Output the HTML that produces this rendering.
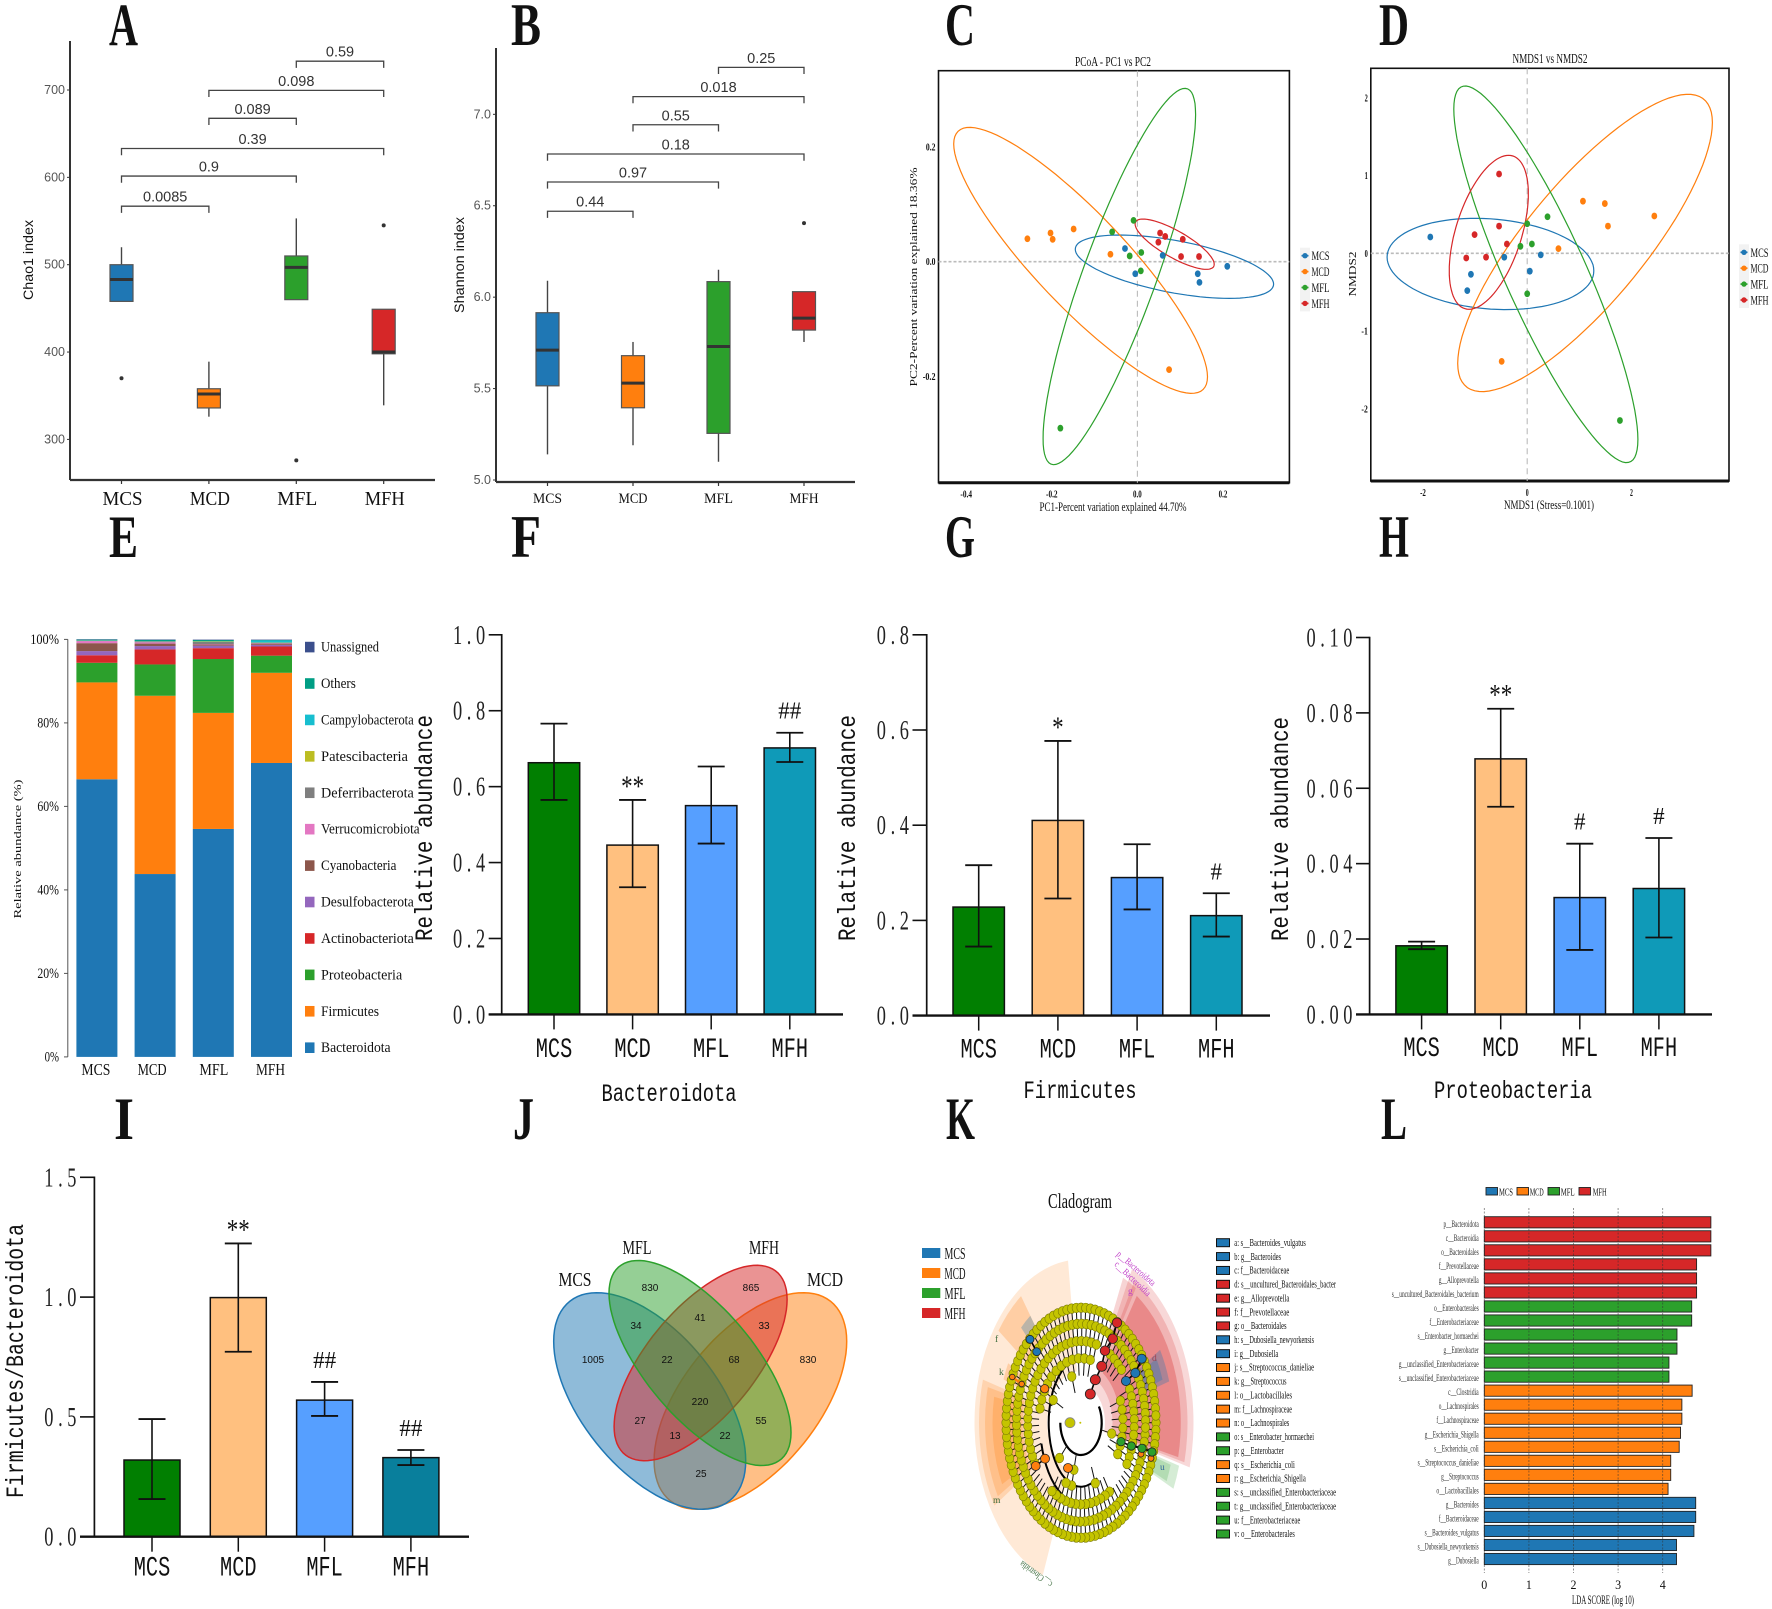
<!DOCTYPE html>
<html lang="en">
<head>
<meta charset="utf-8">
<title>Gut microbiota multi-panel figure</title>
<style>
html,body{margin:0;padding:0;background:#fff}
svg{display:block;filter:blur(0.35px)}
text{font-family:"Liberation Serif",serif;fill:#111}
.sans{font-family:"Liberation Sans",sans-serif}
.mono{font-family:"Liberation Mono",monospace}
.gray{fill:#555}
</style>
</head>
<body>
<svg id="figure" xmlns="http://www.w3.org/2000/svg" width="1772" height="1609" viewBox="0 0 1772 1609">
<rect x="0" y="0" width="1772" height="1609" fill="#fff"/>

<g font-size="60" font-weight="bold">
<text x="109" y="45" textLength="29" lengthAdjust="spacingAndGlyphs">A</text>
<text x="511" y="45" textLength="30" lengthAdjust="spacingAndGlyphs">B</text>
<text x="945" y="45" textLength="30" lengthAdjust="spacingAndGlyphs">C</text>
<text x="1379" y="45" textLength="30" lengthAdjust="spacingAndGlyphs">D</text>
<text x="109" y="557" textLength="29" lengthAdjust="spacingAndGlyphs">E</text>
<text x="511" y="557" textLength="30" lengthAdjust="spacingAndGlyphs">F</text>
<text x="945" y="557" textLength="30" lengthAdjust="spacingAndGlyphs">G</text>
<text x="1379" y="557" textLength="30" lengthAdjust="spacingAndGlyphs">H</text>
<text x="114" y="1139" textLength="20" lengthAdjust="spacingAndGlyphs">I</text>
<text x="513" y="1139" textLength="21" lengthAdjust="spacingAndGlyphs">J</text>
<text x="946" y="1139" textLength="29" lengthAdjust="spacingAndGlyphs">K</text>
<text x="1381" y="1139" textLength="26" lengthAdjust="spacingAndGlyphs">L</text>
</g>

<g id="panel-a">
<text class="sans" font-size="14" fill="#333" text-anchor="middle" transform="translate(33 260) rotate(-90)" textLength="80" lengthAdjust="spacingAndGlyphs">Chao1 index</text>
</g>
<g id="panel-b">
<text class="sans" font-size="14" fill="#333" text-anchor="middle" transform="translate(464 265) rotate(-90)" textLength="96" lengthAdjust="spacingAndGlyphs">Shannon index</text>
</g>

<g id="panel-c">
<text x="1113" y="66" font-size="14" text-anchor="middle" textLength="76" lengthAdjust="spacingAndGlyphs">PCoA - PC1 vs PC2</text>
<text x="1113" y="511" font-size="13" text-anchor="middle" textLength="147" lengthAdjust="spacingAndGlyphs">PC1-Percent variation explained 44.70%</text>
<text font-size="11" text-anchor="middle" transform="translate(917 277) rotate(-90)" textLength="219" lengthAdjust="spacingAndGlyphs">PC2-Percent variation explained 18.36%</text>
</g>
<g id="panel-d">
<text x="1550" y="63" font-size="14" text-anchor="middle" textLength="75" lengthAdjust="spacingAndGlyphs">NMDS1 vs NMDS2</text>
<text x="1549" y="509" font-size="13" text-anchor="middle" textLength="90" lengthAdjust="spacingAndGlyphs">NMDS1 (Stress=0.1001)</text>
<text font-size="11" text-anchor="middle" transform="translate(1356 274) rotate(-90)" textLength="45" lengthAdjust="spacingAndGlyphs">NMDS2</text>
</g>

<g id="panel-e">
<text font-size="11" text-anchor="middle" transform="translate(21 849) rotate(-90)" textLength="139" lengthAdjust="spacingAndGlyphs">Relative abundance (%)</text>
</g>

<g id="panel-f">
<text class="mono" font-size="25" text-anchor="middle" transform="translate(432 828) rotate(-90)" textLength="226" lengthAdjust="spacingAndGlyphs">Relative abundance</text>
<text class="mono" x="669" y="1101" font-size="25" text-anchor="middle" textLength="135" lengthAdjust="spacingAndGlyphs">Bacteroidota</text>
</g>
<g id="panel-g">
<text class="mono" font-size="25" text-anchor="middle" transform="translate(855 828) rotate(-90)" textLength="226" lengthAdjust="spacingAndGlyphs">Relative abundance</text>
<text class="mono" x="1080" y="1098" font-size="25" text-anchor="middle" textLength="113" lengthAdjust="spacingAndGlyphs">Firmicutes</text>
</g>
<g id="panel-h">
<text class="mono" font-size="25" text-anchor="middle" transform="translate(1288 829) rotate(-90)" textLength="224" lengthAdjust="spacingAndGlyphs">Relative abundance</text>
<text class="mono" x="1513" y="1098" font-size="25" text-anchor="middle" textLength="158" lengthAdjust="spacingAndGlyphs">Proteobacteria</text>
</g>
<g id="panel-i">
<text class="mono" font-size="25" text-anchor="middle" transform="translate(23 1361) rotate(-90)" textLength="274" lengthAdjust="spacingAndGlyphs">Firmicutes/Bacteroidota</text>
</g>

<g id="panel-j">
<g id="venn-shapes"></g>
<g font-size="20" text-anchor="middle">
<text x="637" y="1254" textLength="29" lengthAdjust="spacingAndGlyphs">MFL</text>
<text x="764" y="1254" textLength="30" lengthAdjust="spacingAndGlyphs">MFH</text>
<text x="575" y="1286" textLength="33" lengthAdjust="spacingAndGlyphs">MCS</text>
<text x="825" y="1286" textLength="36" lengthAdjust="spacingAndGlyphs">MCD</text>
</g>
<g class="sans" font-size="10" text-anchor="middle">
<text class="sans" x="650" y="1291">830</text>
<text class="sans" x="751" y="1291">865</text>
<text class="sans" x="636" y="1329">34</text>
<text class="sans" x="700" y="1321">41</text>
<text class="sans" x="764" y="1329">33</text>
<text class="sans" x="593" y="1363">1005</text>
<text class="sans" x="667" y="1363">22</text>
<text class="sans" x="734" y="1363">68</text>
<text class="sans" x="808" y="1363">830</text>
<text class="sans" x="700" y="1405">220</text>
<text class="sans" x="640" y="1424">27</text>
<text class="sans" x="761" y="1424">55</text>
<text class="sans" x="675" y="1439">13</text>
<text class="sans" x="725" y="1439">22</text>
<text class="sans" x="701" y="1477">25</text>
</g>
</g>

<g id="panel-k">
<text x="1080" y="1208" font-size="21" text-anchor="middle" textLength="64" lengthAdjust="spacingAndGlyphs">Cladogram</text>
<g id="clad-wedges"></g>
<g id="clad-nodes"></g>
<g fill="none" stroke="#000" stroke-width="1.6">
<polyline points="1117,1322.7 1112.7,1338.7 1105,1350.7 1101.7,1366.3 1095.3,1379.7 1090.3,1394"/>
<polyline points="1141.7,1358.7 1135.3,1373 1126,1381"/>
<polyline points="1030,1339.3 1036.7,1351.7"/>
<polyline points="1045,1458.7 1035.7,1466"/>
<polyline stroke="#ff7f0e" stroke-width="2.5" points="1012.3,1377 1021.7,1384"/>
<polyline points="1121,1441.7 1131.3,1446 1142,1448.3 1152,1452"/>
</g>
<g stroke="#222" stroke-width="0.8">
<g fill="#d62728">
<circle cx="1117" cy="1322.7" r="4.8"/>
<circle cx="1112.7" cy="1338.7" r="4.8"/>
<circle cx="1105" cy="1350.7" r="4.8"/>
<circle cx="1101.7" cy="1366.3" r="5"/>
<circle cx="1095.3" cy="1379.7" r="5"/>
<circle cx="1090.3" cy="1394" r="5"/>
</g>
<g fill="#1f77b4">
<circle cx="1141.7" cy="1358.7" r="4.6"/>
<circle cx="1135.3" cy="1373" r="4.6"/>
<circle cx="1126" cy="1381" r="4.6"/>
<circle cx="1030" cy="1339.3" r="4"/>
<circle cx="1036.7" cy="1351.7" r="4"/>
</g>
<g fill="#ff7f0e">
<circle cx="1044.7" cy="1388.7" r="4.2"/>
<circle cx="1012.3" cy="1377" r="2.8"/>
<circle cx="1021.7" cy="1384" r="2.8"/>
<circle cx="1045" cy="1458.7" r="4.5"/>
<circle cx="1035.7" cy="1466" r="4.5"/>
<circle cx="1068" cy="1468" r="4.5"/>
<circle cx="1141" cy="1454" r="3"/>
<circle cx="1151" cy="1458.3" r="3"/>
</g>
<g fill="#2ca02c">
<circle cx="1121" cy="1441.7" r="4.2"/>
<circle cx="1131.3" cy="1446" r="4.2"/>
<circle cx="1142" cy="1448.3" r="4.2"/>
<circle cx="1152" cy="1452" r="4.2"/>
</g>
<circle cx="1070" cy="1422.7" r="5" fill="#c4c400" stroke="#888"/>
<circle cx="1080.3" cy="1422.7" r="1" fill="#c4c400" stroke="none"/>
</g>
<g font-size="9.5">
<text fill="#c040c8" style="fill:#c040c8" transform="translate(1116 1255) rotate(40.8)" textLength="48" lengthAdjust="spacingAndGlyphs">p__Bacteroidota</text>
<text style="fill:#c040c8" transform="translate(1114 1265) rotate(43.5)" textLength="46" lengthAdjust="spacingAndGlyphs">c__Bacteroidia</text>
<text style="fill:#3a6a3a" transform="translate(1053 1583) rotate(216.4)" textLength="38" lengthAdjust="spacingAndGlyphs">c__Clostridia</text>
<text style="fill:#c040c8" x="1128" y="1294">g</text>
<text style="fill:#3a6a3a" x="995" y="1342">f</text>
<text style="fill:#3a6a3a" x="999" y="1375">k</text>
<text style="fill:#a04050" x="1152" y="1361">d</text>
<text style="fill:#3a6a3a" x="993" y="1503">m</text>
<text style="fill:#336699" x="1160" y="1470">u</text>
</g>
<g id="clad-key"></g>
<g id="clad-legend"></g>
</g>

<g id="panel-l">
<text x="1603" y="1604" font-size="13" text-anchor="middle" textLength="62" lengthAdjust="spacingAndGlyphs">LDA SCORE (log 10)</text>
</g>
</svg>

<script>
/* ---------- shared categories ---------- */
const groups = ['MCS', 'MCD', 'MFL', 'MFH'];
const groupColors = ['#1f77b4', '#ff7f0e', '#2ca02c', '#d62728'];
const barColors = ['#017f01', '#ffc07f', '#569fff', '#0f9ab8'];

/* ---------- A: Chao1 ---------- */
const chao1Ticks = [300, 400, 500, 600, 700];
const chao1Low = [458, 326, 460, 339];
const chao1Q1 = [458, 336, 460, 398];
const chao1Median = [483, 352, 497, 400];
const chao1Q3 = [500, 358, 510, 449];
const chao1High = [520, 389, 553, 449];
const chao1Outliers = [370, null, 276, 545];
const chao1PValues = ['0.0085', '0.9', '0.39', '0.089', '0.098', '0.59'];
const chao1BracketLevels = [567, 601.5, 633, 667.6, 699.6, 733];

/* ---------- B: Shannon ---------- */
const shannonTicks = ['5.0', '5.5', '6.0', '6.5', '7.0'];
const shannonLow = [5.14, 5.19, 5.10, 5.755];
const shannonQ1 = [5.515, 5.395, 5.255, 5.82];
const shannonMedian = [5.71, 5.53, 5.73, 5.885];
const shannonQ3 = [5.915, 5.68, 6.085, 6.03];
const shannonHigh = [6.09, 5.755, 6.15, 6.03];
const shannonOutliers = [null, null, null, 6.405];
const shannonPValues = ['0.44', '0.97', '0.18', '0.55', '0.018', '0.25'];
const shannonBracketLevels = [6.47, 6.63, 6.783, 6.943, 7.097, 7.257];

const bracketFrom = [0, 0, 0, 1, 1, 2];
const bracketTo = [1, 2, 3, 2, 3, 3];

/* ---------- C: PCoA ---------- */
const pcoaXTicks = ['-0.4', '-0.2', '0.0', '0.2'];
const pcoaYTicks = ['-0.2', '0.0', '0.2'];
const pcoaX = [
  [-0.029, 0.059, -0.005, 0.141, 0.145, 0.21],
  [-0.257, -0.203, -0.198, -0.149, -0.063, 0.074],
  [-0.009, -0.059, -0.018, 0.009, 0.008, -0.18],
  [0.053, 0.065, 0.049, 0.106, 0.102, 0.144]
];
const pcoaY = [
  [0.023, 0.011, -0.021, -0.021, -0.036, -0.008],
  [0.04, 0.05, 0.039, 0.057, 0.013, -0.188],
  [0.072, 0.052, 0.01, 0.016, -0.016, -0.29],
  [0.05, 0.044, 0.034, 0.039, 0.009, 0.009]
];
const pcoaEllipseCx = [0.0865, -0.1327, -0.0422, 0.0871];
const pcoaEllipseCy = [-0.0087, 0.0023, -0.0258, 0.0305];
const pcoaEllipseSx = [0.2317, 0.2964, 0.1782, 0.0924];
const pcoaEllipseSy = [0.0552, 0.2317, 0.3278, 0.0438];
const pcoaEllipseRho = [-0.55, -0.875, 0.86, -0.8];

/* ---------- D: NMDS ---------- */
const nmdsXTicks = ['-2', '0', '2'];
const nmdsYTicks = ['-2', '-1', '0', '1', '2'];
const nmdsX = [
  [-1.86, -0.44, 0.26, 0.05, -1.08, -1.15],
  [1.07, 1.49, 1.55, 2.44, 0.6, -0.49],
  [0.39, 0, 0.09, -0.13, 0, 1.78],
  [-0.54, -0.54, -1.01, -0.39, -1.17, -0.79]
];
const nmdsY = [
  [0.21, -0.05, -0.02, -0.23, -0.27, -0.48],
  [0.67, 0.64, 0.35, 0.48, 0.06, -1.39],
  [0.47, 0.38, 0.12, 0.09, -0.52, -2.15],
  [1.02, 0.35, 0.24, 0.12, -0.06, -0.05]
];
const nmdsEllipseCx = [-0.705, 1.11, 0.358, -0.737];
const nmdsEllipseCy = [-0.137, 0.133, -0.27, 0.27];
const nmdsEllipseSx = [1.984, 2.444, 1.767, 0.759];
const nmdsEllipseSy = [0.587, 1.912, 2.422, 0.99];
const nmdsEllipseRho = [-0.15, 0.81, -0.877, 0.5];

/* ---------- E: stacked phyla (percent) ---------- */
const stackTicks = [0, 20, 40, 60, 80, 100];
const stackBacteroidota = [66.5, 43.8, 54.6, 70.4];
const stackFirmicutes = [23.2, 42.7, 27.8, 21.6];
const stackProteobacteria = [4.7, 7.5, 12.9, 4.1];
const stackActinobacteriota = [1.8, 3.6, 2.6, 2.2];
const stackDesulfobacterota = [1.0, 0.8, 0.6, 0.4];
const stackCyanobacteria = [1.9, 0.6, 0.3, 0.3];
const stackVerrucomicrobiota = [0.5, 0.3, 0.1, 0.1];
const stackDeferribacterota = [0.05, 0.2, 0.5, 0.1];
const stackPatescibacteria = [0.05, 0.05, 0.1, 0.05];
const stackCampylobacterota = [0.05, 0.05, 0.05, 0.5];
const stackOthers = [0.2, 0.3, 0.3, 0.1];
const stackUnassigned = [0.1, 0.1, 0.1, 0.1];
const stackSeries = [stackBacteroidota, stackFirmicutes, stackProteobacteria, stackActinobacteriota, stackDesulfobacterota, stackCyanobacteria, stackVerrucomicrobiota, stackDeferribacterota, stackPatescibacteria, stackCampylobacterota, stackOthers, stackUnassigned];
const stackNames = ['Bacteroidota', 'Firmicutes', 'Proteobacteria', 'Actinobacteriota', 'Desulfobacterota', 'Cyanobacteria', 'Verrucomicrobiota', 'Deferribacterota', 'Patescibacteria', 'Campylobacterota', 'Others', 'Unassigned'];
const stackColors = ['#1f77b4', '#ff7f0e', '#2ca02c', '#d62728', '#9467bd', '#8c564b', '#e377c2', '#7f7f7f', '#bcbd22', '#17becf', '#009e84', '#3b4f8c'];

/* ---------- F-I: bars with error bars ---------- */
const bacteroidotaTicks = ['0.0', '0.2', '0.4', '0.6', '0.8', '1.0'];
const bacteroidotaMeans = [0.663, 0.446, 0.55, 0.702];
const bacteroidotaErrHigh = [0.766, 0.565, 0.653, 0.742];
const bacteroidotaErrLow = [0.565, 0.335, 0.45, 0.665];
const bacteroidotaMarks = ['', '**', '', '##'];

const firmicutesTicks = ['0.0', '0.2', '0.4', '0.6', '0.8'];
const firmicutesMeans = [0.228, 0.41, 0.29, 0.21];
const firmicutesErrHigh = [0.316, 0.577, 0.36, 0.257];
const firmicutesErrLow = [0.145, 0.246, 0.223, 0.166];
const firmicutesMarks = ['', '*', '', '#'];

const proteoTicks = ['0.00', '0.02', '0.04', '0.06', '0.08', '0.10'];
const proteoMeans = [0.0182, 0.0678, 0.031, 0.0334];
const proteoErrHigh = [0.0193, 0.0811, 0.0453, 0.0468];
const proteoErrLow = [0.0173, 0.0551, 0.0171, 0.0204];
const proteoMarks = ['', '**', '#', '#'];

const ratioTicks = ['0.0', '0.5', '1.0', '1.5'];
const ratioMeans = [0.32, 0.998, 0.57, 0.33];
const ratioErrHigh = [0.491, 1.224, 0.646, 0.362];
const ratioErrLow = [0.157, 0.772, 0.504, 0.299];
const ratioMarks = ['', '**', '##', '##'];
const ratioColors = ['#017f01', '#ffc07f', '#569fff', '#097f9c'];

/* ---------- K: cladogram ---------- */
const cladRingNodeCounts = [100, 86, 66, 44, 24];
const cladLegendLabels = ['a: s__Bacteroides_vulgatus', 'b: g__Bacteroides', 'c: f__Bacteroidaceae', 'd: s__uncultured_Bacteroidales_bacter', 'e: g__Alloprevotella', 'f: f__Prevotellaceae', 'g: o__Bacteroidales', 'h: s__Dubosiella_newyorkensis', 'i: g__Dubosiella', 'j: s__Streptococcus_danieliae', 'k: g__Streptococcus', 'l: o__Lactobacillales', 'm: f__Lachnospiraceae', 'n: o__Lachnospirales', 'o: s__Enterobacter_hormaechei', 'p: g__Enterobacter', 'q: s__Escherichia_coli', 'r: g__Escherichia_Shigella', 's: s__unclassified_Enterobacteriaceae', 't: g__unclassified_Enterobacteriaceae', 'u: f__Enterobacteriaceae', 'v: o__Enterobacterales'];
const cladLegendGroups = [0, 0, 0, 3, 3, 3, 3, 0, 0, 1, 1, 1, 1, 1, 2, 2, 1, 1, 2, 2, 2, 2];

/* ---------- L: LDA ---------- */
const ldaTicks = [0, 1, 2, 3, 4];
const ldaLabels = ['p__Bacteroidota', 'c__Bacteroidia', 'o__Bacteroidales', 'f__Prevotellaceae', 'g__Alloprevotella', 's__uncultured_Bacteroidales_bacterium', 'o__Enterobacterales', 'f__Enterobacteriaceae', 's__Enterobacter_hormaechei', 'g__Enterobacter', 'g__unclassified_Enterobacteriaceae', 's__unclassified_Enterobacteriaceae', 'c__Clostridia', 'o__Lachnospirales', 'f__Lachnospiraceae', 'g__Escherichia_Shigella', 's__Escherichia_coli', 's__Streptococcus_danieliae', 'g__Streptococcus', 'o__Lactobacillales', 'g__Bacteroides', 'f__Bacteroidaceae', 's__Bacteroides_vulgatus', 's__Dubosiella_newyorkensis', 'g__Dubosiella'];
const ldaScores = [5.08, 5.08, 5.08, 4.76, 4.76, 4.76, 4.65, 4.65, 4.32, 4.32, 4.14, 4.14, 4.66, 4.43, 4.43, 4.40, 4.37, 4.18, 4.18, 4.12, 4.74, 4.74, 4.70, 4.31, 4.31];
const ldaGroups = [3, 3, 3, 3, 3, 3, 2, 2, 2, 2, 2, 2, 1, 1, 1, 1, 1, 1, 1, 1, 0, 0, 0, 0, 0];

/* ---------- helpers ---------- */
const SVG_NS = 'http://www.w3.org/2000/svg';
function mk(tag, parent, attrs) {
  const el = document.createElementNS(SVG_NS, tag);
  for (const k in attrs) el.setAttribute(k, attrs[k]);
  parent.appendChild(el);
  return el;
}
function put(parent, str, x, y, size, anchor, len, extra) {
  const attrs = Object.assign({ x: x, y: y, 'font-size': size, 'text-anchor': anchor }, extra || {});
  if (len) { attrs.textLength = len; attrs.lengthAdjust = 'spacingAndGlyphs'; }
  const el = mk('text', parent, attrs);
  el.textContent = str;
  return el;
}
function line(parent, x1, y1, x2, y2, stroke, width, name) {
  const el = mk('line', parent, { x1: x1, y1: y1, x2: x2, y2: y2, stroke: stroke, 'stroke-width': width });
  
  
  return el;
}
function slug(s) { return String(s).toLowerCase().replace(/[^a-z0-9]+/g, '-').replace(/^-|-$/g, ''); }

/* ---------- box plots ---------- */
function boxPanel(g, o) {
  line(g, o.axisX, o.axisTop, o.axisX, o.axisBottom, '#333', 2, 'y-axis-line');
  line(g, o.axisX, o.axisBottom, o.axisRight, o.axisBottom, '#333', 2.2, 'x-axis-line');
  o.ticks.forEach(function (t) {
    const yy = o.y(+t);
    line(g, o.axisX - 3, yy, o.axisX, yy, '#333', 1, 'y-tick-mark');
    const tl = put(g, t, o.axisX - 5, yy + 4, 12.5, 'end', 0, { class: 'sans gray' });
    
    
  });
  groups.forEach(function (name, i) {
    const cx = o.x(i);
    line(g, cx, o.axisBottom, cx, o.axisBottom + 4, '#333', 1.2, 'x-tick-mark');
    const xl = put(g, name, cx + o.labelShift, o.labelY, o.labelSize, 'middle', o.labelLen);
    
    
    line(g, cx, o.y(o.high[i]), cx, o.y(o.low[i]), '#444', 1.4, 'whisker-' + slug(name));
    const box = mk('rect', g, { x: cx - o.boxW / 2, y: o.y(o.q3[i]), width: o.boxW, height: o.y(o.q1[i]) - o.y(o.q3[i]), fill: groupColors[i], stroke: '#555', 'stroke-width': 1.2 });
    
    
    line(g, cx - o.boxW / 2, o.y(o.median[i]), cx + o.boxW / 2, o.y(o.median[i]), '#333', 3, 'median-' + slug(name));
    if (o.outliers[i] !== null) {
      const dot = mk('circle', g, { cx: cx, cy: o.y(o.outliers[i]), r: 2, fill: '#333' });
      
      
    }
  });
  o.pValues.forEach(function (p, k) {
    const by = o.y(o.levels[k]);
    const x1 = o.x(bracketFrom[k]);
    const x2 = o.x(bracketTo[k]);
    const br = mk('path', g, { d: 'M' + x1 + ' ' + (by + 6.7) + 'V' + by + 'H' + x2 + 'V' + (by + 6.7), fill: 'none', stroke: '#444', 'stroke-width': 1.3 });
    
    
    const pl = put(g, p, (x1 + x2) / 2, by - 4.5, 14.5, 'middle', 0, { class: 'sans', style: 'fill:#333' });
    
    
  });
}
boxPanel(document.getElementById('panel-a'), {
  x: function (i) { return 121.5 + 87.4 * i; },
  y: function (v) { return 264.7 - (v - 500) * 0.8735; },
  axisX: 70, axisTop: 41, axisBottom: 480, axisRight: 435, boxW: 23,
  ticks: chao1Ticks, low: chao1Low, q1: chao1Q1, median: chao1Median, q3: chao1Q3, high: chao1High,
  outliers: chao1Outliers, pValues: chao1PValues, levels: chao1BracketLevels,
  labelY: 505, labelSize: 20, labelLen: 40, labelShift: 1
});
boxPanel(document.getElementById('panel-b'), {
  x: function (i) { return 547.5 + 85.5 * i; },
  y: function (v) { return 114.33 + (7 - v) * 182.83; },
  axisX: 496, axisTop: 48, axisBottom: 482, axisRight: 855, boxW: 23,
  ticks: shannonTicks, low: shannonLow, q1: shannonQ1, median: shannonMedian, q3: shannonQ3, high: shannonHigh,
  outliers: shannonOutliers, pValues: shannonPValues, levels: shannonBracketLevels,
  labelY: 503, labelSize: 15, labelLen: 29, labelShift: 0
});

/* ---------- ordination panels ---------- */
function ellipsePath(cx, cy, sx, sy, rho, fx, fy) {
  let d = '';
  const k = Math.sqrt(1 - rho * rho);
  for (let s = 0; s <= 96; s++) {
    const t = s / 96 * 2 * Math.PI;
    const px = fx(cx + sx * Math.cos(t));
    const py = fy(cy + sy * (rho * Math.cos(t) + k * Math.sin(t)));
    d += (s ? 'L' : 'M') + px.toFixed(1) + ' ' + py.toFixed(1);
  }
  return d + 'Z';
}
function ordinationPanel(g, o) {
  const frame = mk('rect', g, { x: o.left, y: o.top, width: o.right - o.left, height: o.bottom - o.top, fill: '#fff', stroke: '#111', 'stroke-width': 1.6 });
  
  
  line(g, o.left, o.bottom, o.right, o.bottom, '#111', 3, 'x-axis-line');
  const hz = line(g, o.left, o.y(0), o.right, o.y(0), '#bbb', 1.6, 'zero-line-horizontal');
  hz.setAttribute('stroke-dasharray', '3 2');
  const vz = line(g, o.x(0), o.top, o.x(0), o.bottom, '#bbb', 1.1, 'zero-line-vertical');
  vz.setAttribute('stroke-dasharray', '6 4');
  o.xTicks.forEach(function (t) {
    const tl = put(g, t, o.x(+t), o.bottom + 15, 11, 'middle', t.length * 2.9, { 'font-weight': 'bold' });
    
    
  });
  o.yTicks.forEach(function (t) {
    const tl = put(g, t, o.left - 3, o.y(+t) + 3.5, 11, 'end', t.length * 3.2, { 'font-weight': 'bold' });
    
    
  });
  groups.forEach(function (name, i) {
    const e = mk('path', g, { d: ellipsePath(o.cxs[i], o.cys[i], o.sxs[i], o.sys[i], o.rhos[i], o.x, o.y), fill: 'none', stroke: groupColors[i], 'stroke-width': 1.2 });
    
    
  });
  groups.forEach(function (name, i) {
    o.px[i].forEach(function (v, j) {
      const pt = mk('ellipse', g, { cx: o.x(v), cy: o.y(o.py[i][j]), rx: 2.9, ry: 3.4, fill: groupColors[i] });
      
      
    });
  });
  groups.forEach(function (name, i) {
    const ly = o.legendY + i * 15.9;
    const bg = mk('rect', g, { x: o.legendX - 5, y: ly - 8, width: 10, height: 16, fill: '#f2f2f2' });
    
    
    line(g, o.legendX - 3.5, ly, o.legendX + 3.5, ly, groupColors[i], 1.6, 'legend-key-line');
    const dot = mk('circle', g, { cx: o.legendX, cy: ly, r: 2.7, fill: groupColors[i] });
    
    
    const lt = put(g, name, o.legendX + 6.5, ly + 4.5, 13, 'start', 18);
    
    
  });
}
ordinationPanel(document.getElementById('panel-c'), {
  x: function (v) { return 1137.4 + v * 428; },
  y: function (v) { return 261.7 - v * 574; },
  left: 938.5, right: 1289.4, top: 70.7, bottom: 482.7,
  xTicks: pcoaXTicks, yTicks: pcoaYTicks, px: pcoaX, py: pcoaY,
  cxs: pcoaEllipseCx, cys: pcoaEllipseCy, sxs: pcoaEllipseSx, sys: pcoaEllipseSy, rhos: pcoaEllipseRho,
  legendX: 1305, legendY: 255.7
});
ordinationPanel(document.getElementById('panel-d'), {
  x: function (v) { return 1527.2 + v * 52.1; },
  y: function (v) { return 253.3 - v * 77.75; },
  left: 1370.8, right: 1729, top: 68.3, bottom: 481,
  xTicks: nmdsXTicks, yTicks: nmdsYTicks, px: nmdsX, py: nmdsY,
  cxs: nmdsEllipseCx, cys: nmdsEllipseCy, sxs: nmdsEllipseSx, sys: nmdsEllipseSy, rhos: nmdsEllipseRho,
  legendX: 1744, legendY: 252.3
});

/* ---------- E: stacked bars ---------- */
(function () {
  const g = document.getElementById('panel-e');
  const yE = function (v) { return 1056.9 - v * 4.175; };
  const xE = function (i) { return 96.9 + 58.2 * i; };
  const barW = 41;
  line(g, 67.8, yE(100), 67.8, yE(0), '#555', 1, 'y-axis-line');
  stackTicks.forEach(function (t) {
    line(g, 64, yE(t), 67.8, yE(t), '#555', 1, 'y-tick-mark');
    const tl = put(g, t + '%', 59, yE(t) + 4.5, 15, 'end', (String(t).length + 1) * 7.2);
    
    
  });
  const tickOffsets = [-1, -3, 0.6, -1];
  groups.forEach(function (name, i) {
    let base = 0;
    stackSeries.forEach(function (series, s) {
      const v = series[i];
      const seg = mk('rect', g, { x: xE(i) - barW / 2, y: yE(base + v), width: barW, height: yE(base) - yE(base + v), fill: stackColors[s] });
      
      
      base += v;
    });
    const xl = put(g, name, xE(i) + tickOffsets[i], 1075, 17, 'middle', 29);
    
    
  });
  stackNames.forEach(function (name, s) {
    const cy = 1047.7 - s * 36.42;
    const sw = mk('rect', g, { x: 305, y: cy - 5.3, width: 9.5, height: 10.6, fill: stackColors[s] });
    
    
    const tx = put(g, name, 321, cy + 4.5, 15, 'start', name.length * 5.8);
    
    
  });
})();

/* ---------- F-I: bar panels ---------- */
function barPanel(g, o) {
  const x = function (i) { return o.xStart + o.xStep * i; };
  const y = function (v) { return o.yZero - v * o.yUnit; };
  o.ticks.forEach(function (t) {
    line(g, o.axisLeft, y(+t), o.axisX, y(+t), '#111', 1.6, 'y-tick-mark');
    const tl = mk('text', g, { transform: 'translate(' + (o.axisLeft - 3.5 + 4.6) + ' ' + (y(+t) + 9) + ') scale(0.68 1)', 'font-size': 27, 'text-anchor': 'end', 'letter-spacing': 6.8, style: 'fill:#222' });
    tl.textContent = t;
    
    
  });
  groups.forEach(function (name, i) {
    const bar = mk('rect', g, { x: x(i) - o.barW / 2, y: y(o.means[i]), width: o.barW, height: o.yZero - y(o.means[i]), fill: o.colors[i], stroke: '#111', 'stroke-width': 1.5 });
    
    
    const ec = x(i);
    line(g, ec, y(o.hi[i]), ec, y(o.lo[i]), '#111', 1.6, 'error-bar-' + slug(name));
    line(g, ec - 13.5, y(o.hi[i]), ec + 13.5, y(o.hi[i]), '#111', 1.8, 'error-cap-upper-' + slug(name));
    line(g, ec - 13.5, y(o.lo[i]), ec + 13.5, y(o.lo[i]), '#111', 1.8, 'error-cap-lower-' + slug(name));
    line(g, ec, o.yZero, ec, o.yZero + 15, '#111', 1.5, 'x-tick-mark');
    const xl = put(g, name, ec, o.labelY, 28, 'middle', 36.5, { class: 'mono' });
    
    
    const mark = o.marks[i];
    if (mark) {
      const isStar = mark.charAt(0) === '*';
      const sigLabel = put(g, mark, ec, y(o.hi[i]) - (isStar ? 18 : 22) + (isStar ? 14 : 8), isStar ? 30 : 24, 'middle', mark.length * 11.5);
      
      
    }
  });
  line(g, o.axisX, y(+o.ticks[o.ticks.length - 1]) - 0.8, o.axisX, o.yZero, '#111', 1.7, 'y-axis-line');
  line(g, o.axisLeft, o.yZero, o.axisRight, o.yZero, '#111', 2.4, 'x-axis-line');
}
barPanel(document.getElementById('panel-f'), {
  ticks: bacteroidotaTicks, means: bacteroidotaMeans, hi: bacteroidotaErrHigh, lo: bacteroidotaErrLow, marks: bacteroidotaMarks, colors: barColors,
  xStart: 554, xStep: 78.6, barW: 51.4, yZero: 1014.4, yUnit: 379.6, axisX: 501.7, axisLeft: 488.7, axisRight: 843, labelY: 1057
});
barPanel(document.getElementById('panel-g'), {
  ticks: firmicutesTicks, means: firmicutesMeans, hi: firmicutesErrHigh, lo: firmicutesErrLow, marks: firmicutesMarks, colors: barColors,
  xStart: 978.7, xStep: 79.2, barW: 51.4, yZero: 1015.6, yUnit: 476, axisX: 926.7, axisLeft: 912.5, axisRight: 1270, labelY: 1057.7
});
barPanel(document.getElementById('panel-h'), {
  ticks: proteoTicks, means: proteoMeans, hi: proteoErrHigh, lo: proteoErrLow, marks: proteoMarks, colors: barColors,
  xStart: 1421.6, xStep: 79.1, barW: 51.4, yZero: 1014.4, yUnit: 3769, axisX: 1369.6, axisLeft: 1356, axisRight: 1712, labelY: 1055.8
});
barPanel(document.getElementById('panel-i'), {
  ticks: ratioTicks, means: ratioMeans, hi: ratioErrHigh, lo: ratioErrLow, marks: ratioMarks, colors: ratioColors,
  xStart: 152, xStep: 86.3, barW: 56, yZero: 1536.7, yUnit: 239.6, axisX: 94.4, axisLeft: 80, axisRight: 469, labelY: 1575.7
});

/* ---------- J: venn (stacking order sets the overlap colours) ---------- */
(function () {
  const g = document.getElementById('venn-shapes');
  const same = function (v) { return v; };
  const el2 = mk('path', g, { d: ellipsePath(750.4, 1401, 96.3, 108.3, -0.55, same, same), fill: '#ff7f0e', 'fill-opacity': 0.5, stroke: '#ff7f0e', 'stroke-width': 1.5 });
  
  
  const el1 = mk('path', g, { d: ellipsePath(649.7, 1401, 96, 108.3, 0.55, same, same), fill: '#1f77b4', 'fill-opacity': 0.5, stroke: '#1f77b4', 'stroke-width': 1.5 });
  
  
  const el4 = mk('path', g, { d: ellipsePath(700.6, 1363, 86.5, 97.7, -0.65, same, same), fill: '#d62728', 'fill-opacity': 0.5, stroke: '#d62728', 'stroke-width': 1.5 });
  
  
  const el3 = mk('path', g, { d: ellipsePath(700, 1363, 91, 102.5, 0.68, same, same), fill: '#2ca02c', 'fill-opacity': 0.5, stroke: '#2ca02c', 'stroke-width': 1.5 });
  
  
})();

/* ---------- K: cladogram ---------- */
(function () {
  const CX = 1081, CY = 1422.7, RX = 75, RY = 115;
  const pos = function (r, deg) {
    const a = deg * Math.PI / 180;
    return [CX + r * RX * Math.cos(a), CY + r * RY * Math.sin(a)];
  };
  const wg = document.getElementById('clad-wedges');
  function wedge(r0, r1, a0, a1, color, op, name) {
    const p0 = pos(r1, a0), p1 = pos(r1, a1), p2 = pos(r0, a1), p3 = pos(r0, a0);
    const large = (a1 - a0) > 180 ? 1 : 0;
    const d = 'M' + p0 + 'A' + (r1 * RX) + ' ' + (r1 * RY) + ' 0 ' + large + ' 1 ' + p1 + 'L' + p2 + 'A' + (r0 * RX) + ' ' + (r0 * RY) + ' 0 ' + large + ' 0 ' + p3 + 'Z';
    const w = mk('path', wg, { d: d, fill: color, 'fill-opacity': op });
    
    
  }
  wedge(0.45, 1.42, 111, 263, '#ff7f0e', 0.17, 'clade-wedge-clostridia');
  wedge(0.9, 1.36, 216, 234, '#ff7f0e', 0.25, 'clade-wedge-mcd');
  wedge(0.7, 1.36, 148, 196, '#ff7f0e', 0.2, 'clade-wedge-mcd');
  wedge(0.78, 1.28, 150, 194, '#ff7f0e', 0.22, 'clade-wedge-mcd');
  wedge(0.85, 1.18, 153, 191, '#ff7f0e', 0.25, 'clade-wedge-mcd');
  wedge(0.9, 1.1, 200, 208, '#ff7f0e', 0.25, 'clade-wedge-mcd');
  wedge(0.95, 1.15, 226, 234, '#1f77b4', 0.3, 'clade-wedge-mcs');
  wedge(0.32, 1.5, -63, 15, '#d62728', 0.18, 'clade-wedge-bacteroidota');
  wedge(0.42, 1.42, -60, 14, '#d62728', 0.2, 'clade-wedge-bacteroidia');
  wedge(0.52, 1.33, -56, 13, '#d62728', 0.3, 'clade-wedge-bacteroidales');
  wedge(0.9, 1.38, -66, -58, '#d62728', 0.2, 'clade-wedge-prevotellaceae');
  wedge(0.9, 1.23, -31, -17, '#1f77b4', 0.3, 'clade-wedge-dubosiella');
  wedge(0.9, 1.15, -29, -19, '#1f77b4', 0.3, 'clade-wedge-dubosiella');
  wedge(0.95, 1.36, 16, 25, '#2ca02c', 0.2, 'clade-wedge-enterobacterales');
  wedge(0.95, 1.25, 17, 24, '#2ca02c', 0.2, 'clade-wedge-enterobacteriaceae');

  const ng = document.getElementById('clad-nodes');
  const ringRadii = [1, 0.86, 0.71, 0.56, 0.42];
  const ringArcs = [
    [[0, 360]],
    [[0, 360]],
    [[0, 32], [55, 125], [150, 292], [302, 320], [335, 360]],
    [[0, 32], [62, 78], [100, 118], [190, 285], [338, 360]],
    [[0, 24], [90, 108], [125, 135], [205, 212], [252, 262]]
  ];
  const inArc = function (ring, deg) {
    const a = ((deg % 360) + 360) % 360;
    return ringArcs[ring].some(function (r) { return a >= r[0] && a <= r[1]; });
  };
  function blackArc(rx, ry, a0, a1, width) {
    const s = [CX + rx * Math.cos(a0 * Math.PI / 180), CY + ry * Math.sin(a0 * Math.PI / 180)];
    const e = [CX + rx * Math.cos(a1 * Math.PI / 180), CY + ry * Math.sin(a1 * Math.PI / 180)];
    const large = (a1 - a0) > 180 ? 1 : 0;
    const arc = mk('path', ng, { d: 'M' + s + 'A' + rx + ' ' + ry + ' 0 ' + large + ' 1 ' + e, fill: 'none', stroke: '#000', 'stroke-width': width });
    
    
  }
  blackArc(20.7, 32.3, -30, 180, 2.2);
  blackArc(32.3, 64, 60, 290, 2);
  blackArc(41, 81, 70, 165, 2);
  cladRingNodeCounts.forEach(function (count, ring) {
    for (let n = 0; n < count; n++) {
      const deg = 360 * n / count + ring * 7;
      if (!inArc(ring, deg)) continue;
      const p = pos(ringRadii[ring], deg);
      const q = pos(ringRadii[ring] - 0.15, deg);
      line(ng, q[0], q[1], p[0], p[1], '#111', 1, 'taxon-branch');
    }
  });
  cladRingNodeCounts.forEach(function (count, ring) {
    for (let n = 0; n < count; n++) {
      const deg = 360 * n / count + ring * 7;
      if (!inArc(ring, deg)) continue;
      const p = pos(ringRadii[ring], deg);
      const node = mk('ellipse', ng, { cx: p[0], cy: p[1], rx: 4.2, ry: 4.8, fill: '#c4c400', stroke: '#7a7a00', 'stroke-width': 0.6 });
      
      
    }
  });

  const kg = document.getElementById('clad-key');
  groups.forEach(function (name, i) {
    const ky = 1253 + i * 20;
    const sw = mk('rect', kg, { x: 922, y: ky - 5, width: 18.3, height: 10, fill: groupColors[i] });
    
    
    const tx = put(kg, name, 955, ky + 6, 17, 'middle', 21);
    
    
  });

  const lg = document.getElementById('clad-legend');
  cladLegendLabels.forEach(function (label, i) {
    const ly = 1242.7 + i * 13.87;
    const sw = mk('rect', lg, { x: 1216.5, y: ly - 4, width: 13, height: 8, fill: groupColors[cladLegendGroups[i]], stroke: '#111', 'stroke-width': 1 });
    
    
    const tx = put(lg, label, 1234.3, ly + 3.2, 10.5, 'start', label.length * 2.75);
    
    
  });
})();

/* ---------- L: LDA ---------- */
(function () {
  const g = document.getElementById('panel-l');
  const xL = function (v) { return 1484.3 + v * 44.6; };
  const yL = function (i) { return 1222.3 + i * 14.03; };
  ldaLabels.forEach(function (label, i) {
    const bar = mk('rect', g, { x: xL(0), y: yL(i) - 5.6, width: xL(ldaScores[i]) - xL(0), height: 11.2, fill: groupColors[ldaGroups[i]], stroke: '#222', 'stroke-width': 0.9 });
    
    
    const tx = put(g, label, 1478.7, yL(i) + 4.5, 9.5, 'end', label.length * 2.35, { style: 'fill:#333' });
    
    
  });
  ldaTicks.forEach(function (t) {
    const gl = line(g, xL(t), 1208, xL(t), 1573, '#333', 0.8, 'grid-line');
    gl.setAttribute('stroke-dasharray', '2 1.5');
    gl.setAttribute('stroke-opacity', '0.65');
    const tl = put(g, t, xL(t), 1589, 13, 'middle', 6);
    
    
  });
  const swatchX = [1486, 1517, 1548, 1579];
  const labelX = [1499, 1529.7, 1560.7, 1592.7];
  groups.forEach(function (name, i) {
    const sw = mk('rect', g, { x: swatchX[i], y: 1187.5, width: 11.5, height: 7.5, fill: groupColors[i], stroke: '#222', 'stroke-width': 0.9 });
    
    
    const tx = put(g, name, labelX[i], 1195.5, 11, 'start', 14);
    
    
  });
})();
</script>
</body>
</html>
